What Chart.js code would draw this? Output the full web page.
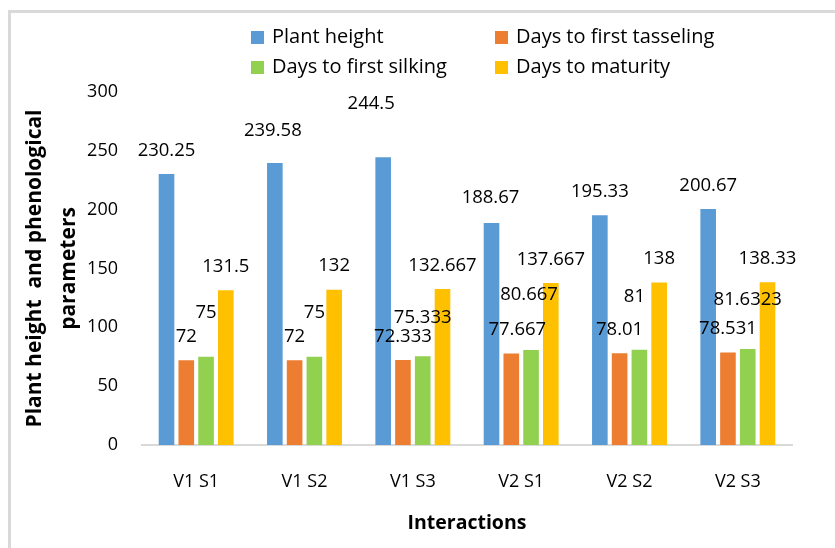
<!DOCTYPE html>
<html>
<head>
<meta charset="utf-8">
<script src="https://cdn.jsdelivr.net/npm/chart.js@4/dist/chart.umd.min.js"></script>
<style>
  html, body { margin: 0; padding: 0; background: #fff; }
  #wrap { position: relative; width: 835px; height: 548px; overflow: hidden; }
  #frame { position: absolute; left: 8px; top: 10px; width: 900px; height: 600px;
           border-left: 3px solid #d9d9d9; border-top: 3px solid #d9d9d9; box-sizing: border-box; }
  canvas { position: absolute; left: 0; top: 0; }
</style>
</head>
<body>
<div id="wrap">
  <div id="frame"></div>
  <canvas id="c" width="835" height="548"></canvas>
</div>
<script>
// Treatment interactions (variety x sowing)
const categories = ['V1 S1', 'V1 S2', 'V1 S3', 'V2 S1', 'V2 S2', 'V2 S3'];

const plantHeight      = [230.25, 239.58, 244.5, 188.67, 195.33, 200.67];
const daysToTasseling  = [72, 72, 72.333, 77.667, 78.01, 78.531];
const daysToSilking    = [75, 75, 75.333, 80.667, 81, 81.6323];
const daysToMaturity   = [131.5, 132, 132.667, 137.667, 138, 138.33];

const seriesNames = ['Plant height', 'Days to first tasseling', 'Days to first silking', 'Days to maturity'];
const yTicks = [0, 50, 100, 150, 200, 250, 300];

const FONT = "'Open Sans', 'DejaVu Sans', sans-serif";
const colors = ['#5b9bd5', '#ed7d31', '#92d050', '#ffc000'];

// Two-column legend laid out on a fixed grid above the plot
const gridLegend = {
  id: 'gridLegend',
  afterDraw(chart, args, opts) {
    const ctx = chart.ctx;
    ctx.save();
    ctx.font = opts.font;
    ctx.textBaseline = 'middle';
    ctx.textAlign = 'left';
    chart.data.datasets.forEach((ds, i) => {
      const col = i % 2, row = Math.floor(i / 2);
      const x = opts.cols[col], y = opts.rows[row];
      ctx.fillStyle = ds.backgroundColor;
      ctx.fillRect(x, y - opts.box / 2, opts.box, opts.box);
      ctx.fillStyle = opts.color;
      ctx.fillText(ds.label, x + opts.box + opts.gap, y);
    });
    ctx.restore();
  }
};

// Value labels above each bar, with a few hand-placed nudges
const valueLabels = {
  id: 'valueLabels',
  afterDatasetsDraw(chart, args, opts) {
    const ctx = chart.ctx;
    ctx.save();
    ctx.font = opts.font;
    ctx.fillStyle = opts.color;
    ctx.textAlign = 'center';
    ctx.textBaseline = 'middle';
    chart.data.datasets.forEach((ds, di) => {
      const meta = chart.getDatasetMeta(di);
      meta.data.forEach((bar, i) => {
        const nudge = opts.nudges[di + ':' + i] || [0, opts.offset];
        ctx.fillText(String(ds.data[i]), bar.x + nudge[0], bar.y - nudge[1]);
      });
    });
    ctx.restore();
  }
};

const values = [plantHeight, daysToTasseling, daysToSilking, daysToMaturity];

new Chart(document.getElementById('c'), {
  type: 'bar',
  data: {
    labels: categories,
    datasets: values.map((v, i) => ({
      label: seriesNames[i],
      data: v,
      backgroundColor: colors[i],
      borderWidth: 0,
      categoryPercentage: 0.73,
      barPercentage: 0.79
    }))
  },
  options: {
    responsive: false,
    animation: false,
    devicePixelRatio: 1,
    layout: { padding: { top: 92, right: 43, bottom: 0, left: 0 } },
    plugins: {
      legend: { display: false },
      tooltip: { enabled: false },
      gridLegend: {
        font: '20px ' + FONT,
        color: '#000',
        cols: [251, 495],
        rows: [37.5, 67.5],
        box: 13,
        gap: 8
      },
      valueLabels: {
        font: '18.5px ' + FONT,
        color: '#000',
        offset: 23.5,
        nudges: {
          '0:1': [-2, 32],
          '0:2': [-12, 54],
          '0:3': [-1, 25],
          '1:3': [6, 24],
          '2:0': [0, 44],
          '2:1': [0, 44],
          '2:2': [0, 39],
          '2:3': [-2, 55],
          '2:4': [-5, 53],
          '2:5': [0, 49]
        }
      }
    },
    scales: {
      x: {
        grid: { display: false, drawTicks: false },
        border: { display: true, color: '#d9d9d9', width: 2 },
        ticks: { color: '#000', font: { family: FONT, size: 18 }, padding: 26 },
        title: {
          display: true, text: 'Interactions', color: '#000',
          font: { family: FONT, size: 19.5, weight: 'bold' }, padding: { top: 0, bottom: 13 }
        },
        afterFit(s) { s.height = 103; }
      },
      y: {
        min: 0, max: 300,
        afterBuildTicks(s) { s.ticks = yTicks.map(v => ({ value: v })); },
        grid: { display: false, drawTicks: false },
        border: { display: false },
        ticks: { color: '#000', font: { family: FONT, size: 18 }, padding: 24 },
        title: {
          display: true,
          text: ['Plant height  and phenological', 'parameters'],
          color: '#000',
          font: { family: FONT, size: 21, weight: 'bold', lineHeight: 1.62 },
          padding: { top: 18, bottom: 0 }
        },
        afterFit(s) { s.width = 142; }
      }
    }
  },
  plugins: [gridLegend, valueLabels]
});
</script>
</body>
</html>
